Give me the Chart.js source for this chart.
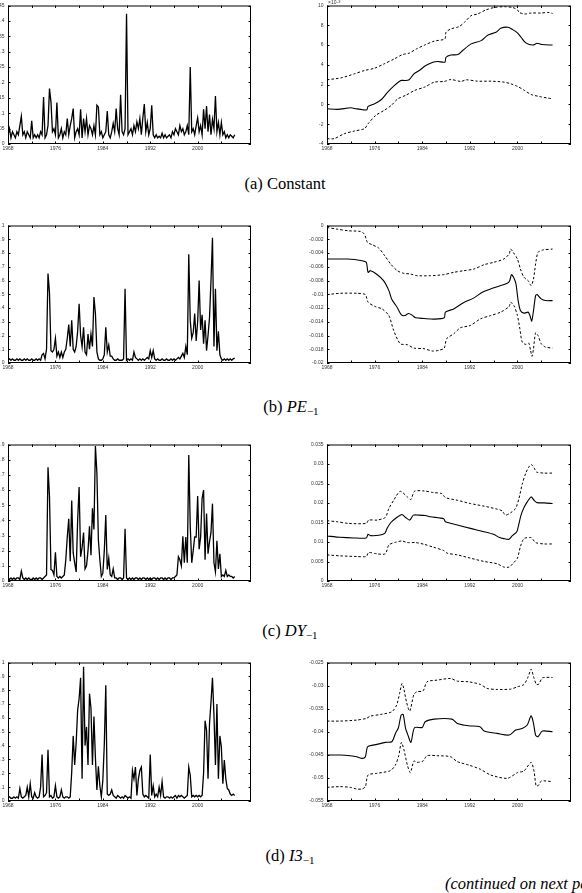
<!DOCTYPE html>
<html>
<head>
<meta charset="utf-8">
<script src="https://cdn.jsdelivr.net/npm/chart.js@4.4.1/dist/chart.umd.min.js"></script>
<style>
html, body { margin: 0; padding: 0; background: #fff; width: 582px; height: 893px; overflow: hidden; position: relative; }
canvas { position: absolute; }
.cap { position: absolute; font-family: "Liberation Serif", "DejaVu Serif", serif; font-size: 16.5px; line-height: 18px; color: #000; white-space: nowrap; transform: translateX(-50%); }
.cap sub { font-size: 11px; line-height: 0; vertical-align: -3px; }
.more { position: absolute; left: 445px; top: 875px; font-family: "Liberation Serif", "DejaVu Serif", serif; font-style: italic; font-size: 16.5px; line-height: 18px; white-space: nowrap; }
</style>
</head>
<body>
<canvas id="aL"></canvas><canvas id="aR"></canvas>
<canvas id="bL"></canvas><canvas id="bR"></canvas>
<canvas id="cL"></canvas><canvas id="cR"></canvas>
<canvas id="dL"></canvas><canvas id="dR"></canvas>
<div class="cap" style="left:285px;top:175px">(a) Constant</div>
<div class="cap" style="left:291px;top:398px">(b) <i>PE</i><sub>−1</sub></div>
<div class="cap" style="left:290px;top:622px">(c) <i>DY</i><sub>−1</sub></div>
<div class="cap" style="left:290px;top:847px">(d) <i>I3</i><sub>−1</sub></div>
<div class="more">(continued on next page)</div>
<script>
// x axis: ticks every 4 years, labels every 8
const xTicks = [1968, 1972, 1976, 1980, 1984, 1988, 1992, 1996, 2000, 2004];
const xLabelYears = [1968, 1976, 1984, 1992, 2000];

// left column: regime probabilities, quarterly from 1968Q1
const probConst = [
  .03,.05,.02,.04, .03,.02,.04,.03, .06,.09,.03,.04, .02,.04,.03,.02, .075,.02,.03,.02, .03,.02,.04,.03,
  .153,.02,.03,.06, .18,.137,.04,.05, .03,.135,.02,.03, .05,.02,.04,.03, .083,.03,.06,.083, .115,.02,.04,.05,
  .03,.113,.02,.083, .04,.083,.03,.06, .05,.03,.06,.03, .126,.12,.03,.04, .02,.03,.04,.107, .03,.02,.04,.067,
  .04,.115,.05,.03, .16,.04,.03,.05, .423,.03,.04,.05, .03,.06,.04,.072, .05,.083,.03,.085, .13,.04,.07,.03,
  .05,.126,.03,.02, .03,.02,.025,.02, .035,.02,.03,.02, .025,.03,.02,.04, .03,.05,.04,.03, .06,.04,.05,.03,
  .04,.06,.03,.25, .04,.05,.03,.06, .085,.04,.06,.03, .113,.05,.123,.04, .096,.03,.08,.05, .156,.04,.07,.03,
  .07,.03,.04,.02, .03,.02,.03,.025, .02,.03
];
const probPE = [
  .02,.03,.02,.03, .02,.02,.03,.02, .03,.02,.02,.03, .02,.03,.02,.02, .03,.02,.02,.03, .02,.03,.02,.06,
  .07,.03,.10,.65, .51,.09,.08,.10, .18,.05,.08,.04, .08,.04,.08,.10, .18,.28,.12,.31, .10,.08,.12,.23,
  .43,.20,.12,.26, .08,.06,.21,.10, .21,.12,.48,.36, .08,.03,.02,.02, .03,.06,.26,.08, .13,.05,.05,.03,
  .02,.02,.03,.02, .02,.02,.03,.54, .02,.03,.02,.03, .02,.08,.04,.03, .02,.03,.02,.03, .02,.03,.04,.03,
  .09,.04,.09,.03, .02,.03,.02,.02, .03,.02,.02,.03, .02,.02,.03,.02, .03,.02,.03,.04, .03,.05,.07,.04,
  .12,.06,.79,.31, .18,.22,.36,.16, .30,.60,.24,.35, .14,.31,.09,.20, .33,.60,.91,.12, .54,.09,.23,.06,
  .03,.02,.03,.02, .03,.02,.03,.02, .03,.035
];
const probDY = [
  .02,.01,.02,.01, .02,.01,.02,.02, .01,.065,.02,.01, .02,.01,.02,.01, .01,.02,.01,.02, .01,.02,.02,.01,
  .02,.03,.04,.75, .555,.075,.07,.04, .19,.03,.02,.03, .02,.03,.04,.14, .29,.41,.13,.53, .185,.12,.06,.40,
  .62,.16,.22,.32, .08,.10,.20,.36, .17,.48,.34,.89, .71,.27,.14,.03, .05,.20,.435,.076, .15,.04,.03,.08,
  .02,.02,.01,.02, .02,.01,.02,.345, .02,.01,.02,.01, .02,.01,.02,.02, .01,.02,.01,.02, .02,.01,.02,.01,
  .02,.01,.02,.02, .01,.02,.01,.02, .02,.01,.02,.01, .02,.02,.01,.02, .02,.03,.04,.16, .14,.10,.295,.12,
  .29,.12,.83,.36, .12,.20,.29,.29, .56,.21,.29,.545, .60,.14,.445,.18, .26,.32,.51,.12, .06,.265,.08,.18,
  .03,.04,.03,.07, .03,.04,.03,.03, .02,.03
];
const probI3 = [
  .02,.03,.02,.02, .03,.02,.03,.02, .09,.03,.02,.03, .04,.10,.03,.125, .03,.02,.06,.03, .02,.03,.10,.335,
  .03,.04,.06,.37, .03,.04,.02,.03, .11,.03,.02,.03, .08,.03,.02,.03, .03,.02,.03,.21, .47,.26,.42,.655,
  .74,.89,.16,.97, .40,.535,.26,.775, .67,.26,.61,.31, .08,.25,.11,.03, .15,.41,.835,.05, .04,.05,.08,.04,
  .03,.02,.04,.03, .02,.03,.02,.04, .03,.02,.03,.02, .22,.16,.245,.04, .16,.22,.245,.05, .03,.04,.03,.02,
  .335,.04,.11,.03, .05,.03,.10,.04, .14,.03,.02,.03, .03,.02,.03,.02, .03,.04,.02,.04, .03,.04,.03,.02,
  .03,.04,.245,.185, .03,.04,.03,.04, .03,.04,.03,.04, .20,.58,.51,.16, .56,.715,.89,.62, .26,.70,.16,.47,
  .39,.125,.295,.16, .09,.08,.05,.04, .05,.04
];

// right column: coefficient estimate with bands, [year, value]
const constMid = [[1968,-0.44],[1969.8,-0.5],[1972,-0.34],[1972.9,-0.44],[1974,-0.54],[1974.7,-0.54],[1974.9,-0.2],[1976,0.07],[1977.1,0.47],[1978.2,1.24],[1979.3,1.9],[1980.4,2.42],[1981,2.42],[1981.8,2.5],[1982.6,3.09],[1983.5,3.43],[1984.6,3.93],[1985.8,4.27],[1986.6,4.34],[1987.8,4.27],[1988,4.77],[1988.8,5.0],[1990,5.04],[1990.8,5.45],[1992.2,6.12],[1993.9,6.45],[1995,7.0],[1996.4,7.3],[1997.2,7.7],[1998.4,7.8],[1999.2,7.56],[2000,7.23],[2000.6,6.79],[2001.4,6.22],[2002.6,6.0],[2003.3,6.18],[2004.2,6.05],[2005.9,6.0]];
const constUp = [[1968,2.49],[1970.4,2.69],[1972.6,3.09],[1974.3,3.43],[1976,3.66],[1977.6,4.1],[1979.3,4.6],[1980.7,5.04],[1981.8,5.18],[1983,5.6],[1984.4,6.0],[1986,6.4],[1987.8,6.62],[1988,7.3],[1988.8,7.63],[1990.2,7.87],[1991.1,8.3],[1992.2,8.97],[1993.3,9.14],[1994.7,9.55],[1996.1,9.8],[1997.8,9.88],[1999.2,9.8],[2000,9.55],[2000.3,9.3],[2001.2,9.14],[2002.3,9.24],[2004,9.24],[2005.1,9.3],[2005.9,9.2]];
const constLo = [[1968,-3.46],[1969.2,-3.46],[1970.9,-2.96],[1972.6,-2.69],[1974.3,-2.45],[1974.9,-1.95],[1976.2,-1.1],[1977.6,-0.6],[1978.8,-0.1],[1979.9,0.57],[1981.3,0.94],[1982.7,1.41],[1984.4,1.75],[1986,2.25],[1987.7,2.32],[1988.8,2.52],[1990.5,2.32],[1991.4,2.49],[1993.3,2.35],[1995.6,2.35],[1997.8,2.25],[1998.9,2.08],[2000,1.82],[2001.2,1.41],[2002.3,1.0],[2003.7,0.8],[2005.1,0.64],[2005.9,0.57]];

const peMid = [[1968,-0.00488],[1971.4,-0.00488],[1973.9,-0.00512],[1974.6,-0.00536],[1974.9,-0.00681],[1975.3,-0.00657],[1976.3,-0.00705],[1977.5,-0.00802],[1978.4,-0.00947],[1978.9,-0.01077],[1979.7,-0.01179],[1980.5,-0.013],[1981.1,-0.0131],[1981.7,-0.0128],[1982.3,-0.01304],[1982.9,-0.01343],[1984.3,-0.01353],[1986,-0.01362],[1987.7,-0.01343],[1987.9,-0.0126],[1989.3,-0.01213],[1991,-0.0112],[1992.7,-0.01053],[1994.1,-0.00971],[1995.5,-0.00923],[1997.2,-0.00874],[1998.3,-0.00841],[1998.7,-0.00802],[1999,-0.00715],[1999.35,-0.00754],[1999.75,-0.0085],[2000.1,-0.01082],[2000.5,-0.01237],[2001.1,-0.01275],[2001.8,-0.0126],[2002.1,-0.0131],[2002.4,-0.0139],[2002.7,-0.01237],[2003.05,-0.0102],[2003.3,-0.01005],[2004,-0.01068],[2004.7,-0.01092],[2005.9,-0.01092]];
const peUp = [[1968,-0.00029],[1969.7,-0.00053],[1971.6,-0.00077],[1973.6,-0.00087],[1974.3,-0.00126],[1974.8,-0.00246],[1975.6,-0.0028],[1976.7,-0.00329],[1977.7,-0.0044],[1978.7,-0.0056],[1979.8,-0.00657],[1980.9,-0.00696],[1982,-0.00705],[1983.1,-0.0073],[1985.4,-0.0073],[1987.6,-0.00715],[1989.3,-0.00681],[1991,-0.00657],[1992.7,-0.00633],[1994.4,-0.0057],[1996,-0.00536],[1997.7,-0.00488],[1998.6,-0.00415],[1998.85,-0.00343],[1999.3,-0.00391],[2000,-0.00488],[2000.5,-0.00633],[2001.1,-0.00754],[2001.8,-0.00802],[2002.3,-0.00874],[2002.7,-0.00778],[2003.05,-0.0056],[2003.45,-0.00391],[2004.2,-0.00357],[2005.9,-0.00343]];
const peLo = [[1968,-0.01005],[1970.2,-0.00986],[1973,-0.00986],[1974.45,-0.01005],[1974.9,-0.01116],[1976.1,-0.01179],[1977.25,-0.01213],[1978.4,-0.0131],[1979.2,-0.01527],[1980.3,-0.0172],[1981.5,-0.01734],[1982.6,-0.01783],[1984.3,-0.01792],[1985.7,-0.01826],[1986.8,-0.01816],[1987.7,-0.01783],[1988.1,-0.01647],[1989.3,-0.01575],[1990.4,-0.01488],[1992.1,-0.01454],[1993.8,-0.01357],[1995.5,-0.0131],[1997.2,-0.0126],[1998.6,-0.01179],[1998.85,-0.01116],[1999.4,-0.01164],[2000,-0.0131],[2000.4,-0.015],[2000.8,-0.01696],[2001.4,-0.0173],[2001.9,-0.0171],[2002.2,-0.01816],[2002.45,-0.01903],[2002.7,-0.01792],[2003.05,-0.0156],[2003.45,-0.016],[2004,-0.0172],[2004.7,-0.01768],[2005.9,-0.01783]];

const dyMid = [[1968,0.01155],[1970.2,0.0112],[1972.5,0.01104],[1974.6,0.01104],[1974.9,0.01197],[1975.3,0.01163],[1976.7,0.01171],[1977.7,0.01222],[1978.1,0.0135],[1978.7,0.01494],[1979.5,0.01604],[1980.6,0.01706],[1981.2,0.0163],[1981.9,0.01562],[1982.5,0.01689],[1983.4,0.01689],[1984.5,0.0168],[1985.4,0.01647],[1987.6,0.01596],[1987.9,0.0152],[1989.9,0.01435],[1992.1,0.0135],[1994.4,0.01265],[1996,0.01197],[1996.9,0.0112],[1997.7,0.01087],[1998.6,0.0107],[1999.1,0.01155],[1999.9,0.01265],[2000.2,0.01435],[2000.6,0.01689],[2001.1,0.01885],[2001.65,0.0203],[2002.3,0.02156],[2002.8,0.0207],[2003.3,0.0201],[2004.5,0.02003],[2005.9,0.01986]];
const dyUp = [[1968,0.01545],[1969.7,0.0152],[1971.6,0.01477],[1974.6,0.01477],[1975,0.01562],[1976.4,0.01562],[1977.8,0.0163],[1978.4,0.0186],[1979.2,0.0207],[1980.3,0.023],[1981.5,0.02156],[1982.1,0.02088],[1982.7,0.023],[1984.3,0.02309],[1985.9,0.02267],[1987.3,0.02241],[1987.9,0.02139],[1989.9,0.0207],[1992.1,0.01986],[1994.4,0.01919],[1996.6,0.01842],[1997.4,0.018],[1998,0.01689],[1998.85,0.01749],[1999.7,0.0186],[2000.25,0.02114],[2000.8,0.0248],[2001.4,0.02767],[2001.9,0.0292],[2002.3,0.02988],[2002.8,0.02903],[2003.2,0.02793],[2004.5,0.02767],[2005.9,0.02767]];
const dyLo = [[1968,0.0067],[1970.2,0.00645],[1973,0.00628],[1974.6,0.00628],[1975,0.0073],[1976.4,0.00696],[1977.8,0.00696],[1978.4,0.00925],[1979.5,0.00993],[1980.6,0.01027],[1981.5,0.00985],[1982.9,0.00985],[1984.3,0.00942],[1985.9,0.00866],[1987.6,0.00781],[1988.2,0.00713],[1989.9,0.0067],[1992.1,0.00586],[1994.4,0.005],[1996.6,0.00441],[1997.7,0.00357],[1998.6,0.00357],[1999.3,0.00458],[2000,0.00586],[2000.5,0.00883],[2001.1,0.01087],[2002.3,0.01112],[2003.05,0.00985],[2004.5,0.0095],[2005.9,0.0095]];

const i3Mid = [[1968,-0.04504],[1970.2,-0.04504],[1971.9,-0.04519],[1973,-0.0454],[1973.9,-0.04576],[1974.45,-0.0454],[1974.85,-0.04324],[1976.4,-0.04274],[1977.8,-0.0423],[1978.9,-0.04216],[1979.5,-0.04036],[1980,-0.03913],[1980.45,-0.03639],[1980.8,-0.03625],[1981.2,-0.03928],[1981.6,-0.04072],[1982.1,-0.0423],[1982.7,-0.03913],[1984,-0.03906],[1984.5,-0.03783],[1986,-0.03726],[1989,-0.03726],[1989.9,-0.0382],[1991.8,-0.0387],[1993.7,-0.0389],[1994.4,-0.03985],[1996.6,-0.04036],[1998.6,-0.04072],[1999.7,-0.03964],[2000.8,-0.03928],[2001.65,-0.03855],[2002.3,-0.03654],[2002.7,-0.0382],[2003.05,-0.04072],[2003.45,-0.04108],[2004.2,-0.03985],[2005.9,-0.04]];
const i3Up = [[1968,-0.03769],[1970.2,-0.03769],[1973,-0.03747],[1974.6,-0.03711],[1975.3,-0.03661],[1977,-0.03625],[1978.9,-0.03567],[1979.7,-0.03423],[1980.2,-0.0317],[1980.6,-0.02954],[1980.9,-0.03062],[1981.35,-0.0335],[1981.9,-0.03553],[1982.6,-0.03192],[1983.1,-0.03134],[1984.15,-0.03113],[1984.8,-0.02918],[1986.5,-0.02882],[1988.75,-0.02846],[1989.9,-0.02904],[1991.8,-0.02918],[1993.8,-0.02976],[1994.9,-0.03062],[1996.6,-0.03084],[1998.85,-0.03077],[2000,-0.03026],[2001.1,-0.02976],[2001.8,-0.0281],[2002.3,-0.02644],[2002.8,-0.02846],[2003.2,-0.02976],[2003.6,-0.02969],[2004.2,-0.02832],[2005.9,-0.02824]];
const i3Lo = [[1968,-0.05204],[1970.2,-0.05189],[1971.9,-0.05204],[1973,-0.0524],[1973.9,-0.0524],[1974.45,-0.05189],[1974.9,-0.04937],[1976.4,-0.049],[1978.65,-0.04843],[1979.5,-0.0472],[1980.05,-0.04519],[1980.5,-0.0423],[1980.9,-0.04375],[1981.5,-0.0472],[1982,-0.04886],[1982.6,-0.04634],[1983.1,-0.04663],[1984.15,-0.04634],[1984.8,-0.04519],[1986.5,-0.04519],[1988.75,-0.0454],[1989.9,-0.04648],[1991.8,-0.0472],[1993.8,-0.04814],[1995.5,-0.04937],[1998.3,-0.05009],[2000,-0.04886],[2001.1,-0.0485],[2002.3,-0.04663],[2002.8,-0.04865],[2003.15,-0.05175],[2003.6,-0.05153],[2004,-0.05067],[2005.9,-0.05081]];

// y tick values per panel
const ticksProbConst = [0, 0.05, 0.1, 0.15, 0.2, 0.25, 0.3, 0.35, 0.4, 0.45];
const ticksConst = [-4, -2, 0, 2, 4, 6, 8, 10];
const ticksProb = [0, 0.1, 0.2, 0.3, 0.4, 0.5, 0.6, 0.7, 0.8, 0.9, 1];
const ticksProbDY = [0, 0.1, 0.2, 0.3, 0.4, 0.5, 0.6, 0.7, 0.8, 0.9];
const ticksPE = [-0.02, -0.018, -0.016, -0.014, -0.012, -0.01, -0.008, -0.006, -0.004, -0.002, 0];
const ticksDY = [0, 0.005, 0.01, 0.015, 0.02, 0.025, 0.03, 0.035];
const ticksI3 = [-0.055, -0.05, -0.045, -0.04, -0.035, -0.03, -0.025];

const LEFT = { x: 8, w: 243 }, RIGHT = { x: 327, w: 244 };
const ROWS = [{ y: 5, h: 139 }, { y: 225, h: 138 }, { y: 444, h: 137 }, { y: 662, h: 139 }];
const tickFont = { family: 'Liberation Sans', size: 5 };

const fmt = v => String(+v.toFixed(4));

// MATLAB-style frame with inward ticks on all four sides
const framePlugin = {
    id: 'frame',
    afterDraw(chart, args, opts) {
        const { ctx, chartArea: a, scales: { x, y } } = chart;
        ctx.save();
        ctx.strokeStyle = '#000';
        ctx.lineWidth = 1;
        ctx.strokeRect(a.left + 0.5, a.top + 0.5, a.right - a.left - 1, a.bottom - a.top - 1);
        ctx.beginPath();
        xTicks.forEach(v => {
            const px = Math.round(x.getPixelForValue(v)) + 0.5;
            ctx.moveTo(px, a.bottom); ctx.lineTo(px, a.bottom - 2.5);
            ctx.moveTo(px, a.top); ctx.lineTo(px, a.top + 2.5);
        });
        opts.yTicks.forEach(v => {
            const py = Math.round(y.getPixelForValue(v)) + 0.5;
            ctx.moveTo(a.left, py); ctx.lineTo(a.left + 2.5, py);
            ctx.moveTo(a.right, py); ctx.lineTo(a.right - 2.5, py);
        });
        ctx.stroke();
        if (opts.exponent) {
            ctx.fillStyle = '#333';
            ctx.font = '5px "Liberation Sans"';
            ctx.textBaseline = 'alphabetic';
            ctx.fillText('×10', a.left + 1, a.top - 1.5);
            ctx.font = '4px "Liberation Sans"';
            ctx.fillText(opts.exponent, a.left + 10, a.top - 3);
        }
        ctx.restore();
    }
};

function makePanel(id, col, row, padL, yTicks, datasets, exponent) {
    const padT = 6, padR = 4, padB = 9;
    const cv = document.getElementById(id);
    const w = col.w + padL + padR, h = row.h + padT + padB;
    cv.width = w; cv.height = h;
    cv.style.width = w + 'px'; cv.style.height = h + 'px';
    cv.style.left = (col.x - padL) + 'px';
    cv.style.top = (row.y - padT) + 'px';

    new Chart(cv, {
        type: 'line',
        data: { datasets },
        options: {
            responsive: false,
            animation: false,
            devicePixelRatio: 1,
            layout: { padding: { top: padT, right: padR, left: 0, bottom: 0 } },
            elements: { point: { radius: 0 }, line: { borderColor: '#000', fill: false } },
            plugins: {
                legend: { display: false },
                tooltip: { enabled: false },
                frame: { yTicks, exponent }
            },
            scales: {
                x: {
                    type: 'linear', min: 1968, max: 2009,
                    grid: { display: false, drawTicks: false },
                    border: { display: false },
                    afterBuildTicks: s => { s.ticks = xTicks.map(v => ({ value: v })); },
                    afterFit: s => { s.height = padB; },
                    ticks: {
                        autoSkip: false, maxRotation: 0, padding: 1.5,
                        font: tickFont, color: '#333',
                        callback: v => xLabelYears.includes(v) ? String(v) : ''
                    }
                },
                y: {
                    type: 'linear', min: yTicks[0], max: yTicks[yTicks.length - 1],
                    grid: { display: false, drawTicks: false },
                    border: { display: false },
                    afterBuildTicks: s => { s.ticks = yTicks.map(v => ({ value: v })); },
                    afterFit: s => { s.width = padL; },
                    ticks: { autoSkip: false, padding: 3.5, font: tickFont, color: '#333', callback: v => fmt(v) }
                }
            }
        },
        plugins: [framePlugin]
    });
}

const probLine = vals => [{
    data: vals.map((v, i) => ({ x: 1968 + i / 4, y: v })),
    borderWidth: 1.3, tension: 0
}];
const bandLines = (mid, up, lo) => [
    { data: mid.map(p => ({ x: p[0], y: p[1] })), borderWidth: 1.1, tension: 0.25 },
    { data: up.map(p => ({ x: p[0], y: p[1] })), borderWidth: 1, borderDash: [2.5, 2], tension: 0.25 },
    { data: lo.map(p => ({ x: p[0], y: p[1] })), borderWidth: 1, borderDash: [2.5, 2], tension: 0.25 }
];

makePanel('aL', LEFT, ROWS[0], 30, ticksProbConst, probLine(probConst));
makePanel('aR', RIGHT, ROWS[0], 35, ticksConst, bandLines(constMid, constUp, constLo), '-3');
makePanel('bL', LEFT, ROWS[1], 30, ticksProb, probLine(probPE));
makePanel('bR', RIGHT, ROWS[1], 35, ticksPE, bandLines(peMid, peUp, peLo));
makePanel('cL', LEFT, ROWS[2], 30, ticksProbDY, probLine(probDY));
makePanel('cR', RIGHT, ROWS[2], 35, ticksDY, bandLines(dyMid, dyUp, dyLo));
makePanel('dL', LEFT, ROWS[3], 30, ticksProb, probLine(probI3));
makePanel('dR', RIGHT, ROWS[3], 35, ticksI3, bandLines(i3Mid, i3Up, i3Lo));
</script>
</body>
</html>
